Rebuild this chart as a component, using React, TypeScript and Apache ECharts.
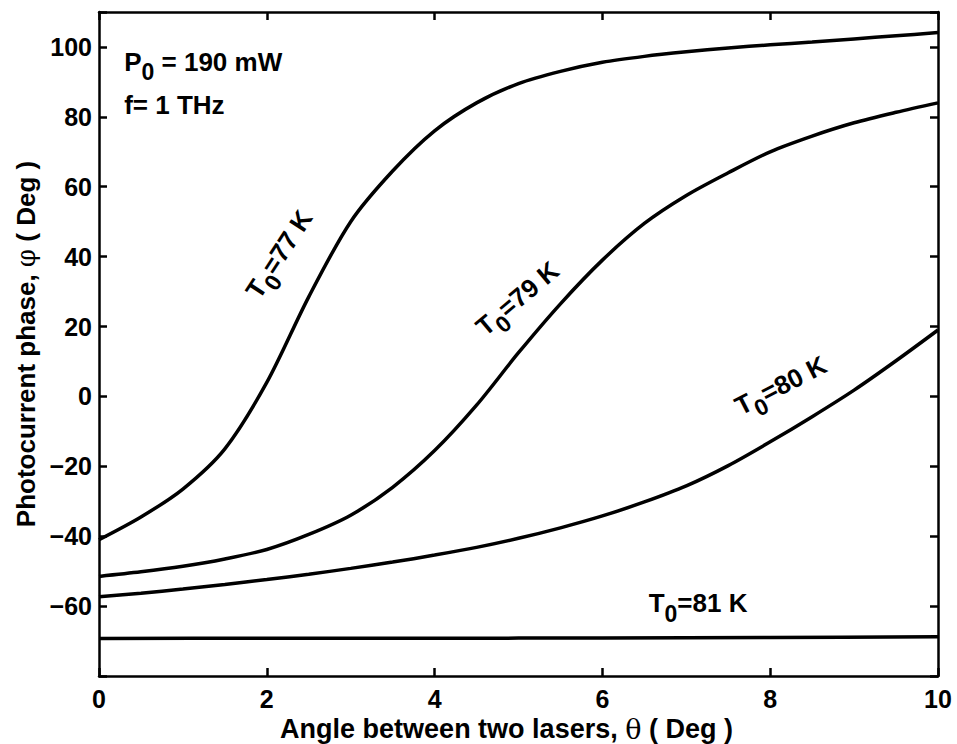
import React, { useEffect, useRef } from 'react';
import * as echarts from 'echarts';

const xValues = [0, 0.5, 1, 1.5, 2, 2.5, 3, 3.5, 4, 4.5, 5, 5.5, 6, 6.5, 7, 7.5, 8, 8.5, 9, 9.5, 10];
const phase77 = [-41, -34.5, -26.5, -15, 4, 28.5, 50, 64.5, 76, 84, 89.5, 93, 95.6, 97.3, 98.6, 99.7, 100.6, 101.4, 102.3, 103.2, 104.1];
const phase79 = [-51.5, -50.2, -48.6, -46.5, -43.8, -39.5, -34, -26, -15.5, -2.5, 12.5, 26.5, 39, 49.5, 57.5, 64, 70, 74.5, 78.3, 81.3, 84];
const phase80 = [-57.3, -56.3, -55.1, -53.8, -52.4, -50.9, -49.2, -47.4, -45.4, -43.2, -40.6, -37.6, -34.2, -30.2, -25.6, -19.8, -13, -5.8, 1.8, 10.2, 19];
const x81 = [0, 2, 4, 6, 8, 10];
const phase81 = [-69.3, -69.2, -69.2, -69.1, -69.0, -68.8];
const yTickValues = [-60, -40, -20, 0, 20, 40, 60, 80, 100];
const xTickValues = [0, 2, 4, 6, 8, 10];

const FONT = 'Liberation Sans, Arial, sans-serif';
const SERIF = 'DejaVu Serif, Liberation Serif, serif';

const pairs = (xs: number[], ys: number[]) => xs.map((x, i) => [x, ys[i]]);

export default function App() {
  const ref = useRef<HTMLDivElement>(null);
  useEffect(() => {
    if (!ref.current) return;
    const chart = echarts.init(ref.current, null, { renderer: 'svg' });
    const axisLine = { show: true, onZero: false, lineStyle: { color: '#000', width: 2.5 } };
    const axisTick = { show: true, inside: true, length: 8, lineStyle: { color: '#000', width: 2.5 } };
    const lineSeries = (name: string, data: number[][]) => ({
      name,
      type: 'line',
      data,
      showSymbol: false,
      symbol: 'none',
      smooth: 0.3,
      lineStyle: { color: '#000', width: 3.5 },
      xAxisIndex: 0,
      yAxisIndex: 0,
    });
    chart.setOption({
      animation: false,
      backgroundColor: '#fff',
      grid: { left: 99, right: 19, top: 12, bottom: 68, outerBoundsMode: 'none', containLabel: false },
      xAxis: [
        {
          type: 'value', min: 0, max: 10, interval: 2, position: 'bottom',
          axisLine, axisTick, splitLine: { show: false },
          axisLabel: {
            margin: 10, color: '#000', fontFamily: FONT, fontWeight: 'bold', fontSize: 25,
            formatter: (v: number) => (xTickValues.includes(v) ? String(v) : ''),
          },
          name: '{a|Angle between two lasers, }{g|θ}{a| ( Deg )}',
          nameLocation: 'middle', nameGap: 21,
          nameTextStyle: {
            padding: [0, 24, 0, 0],
            rich: {
              a: { fontFamily: FONT, fontWeight: 'bold', fontSize: 27, color: '#000' },
              g: { fontFamily: SERIF, fontSize: 27, color: '#000' },
            },
          },
        },
        {
          type: 'value', min: 0, max: 10, interval: 2, position: 'top',
          axisLine, axisTick, splitLine: { show: false }, axisLabel: { show: false },
        },
      ],
      yAxis: [
        {
          type: 'value', min: -80, max: 110, interval: 20, position: 'left',
          axisLine, axisTick, splitLine: { show: false },
          axisLabel: {
            margin: 7, color: '#000', fontFamily: FONT, fontWeight: 'bold', fontSize: 25,
            formatter: (v: number) => (yTickValues.includes(v) ? String(v).replace('-', '\u2212') : ''),
          },
          name: '{a|Photocurrent phase, }{g|φ}{a| ( Deg )}',
          nameLocation: 'middle', nameGap: 60, nameRotate: 90,
          nameTextStyle: {
            rich: {
              a: { fontFamily: FONT, fontWeight: 'bold', fontSize: 26, color: '#000' },
              g: { fontFamily: SERIF, fontSize: 26, color: '#000' },
            },
          },
        },
        {
          type: 'value', min: -80, max: 110, interval: 20, position: 'right',
          axisLine, axisTick, splitLine: { show: false }, axisLabel: { show: false },
        },
      ],
      series: [
        lineSeries('T0=77 K', pairs(xValues, phase77)),
        lineSeries('T0=79 K', pairs(xValues, phase79)),
        lineSeries('T0=80 K', pairs(xValues, phase80)),
        lineSeries('T0=81 K', pairs(x81, phase81)),
      ],
    });

    const px = (x: number, y: number) => chart.convertToPixel({ gridIndex: 0 }, [x, y]) as number[];
    const rich = {
      m: { fontFamily: FONT, fontWeight: 'bold', fontSize: 26, color: '#000', verticalAlign: 'top' },
      s: { fontFamily: FONT, fontWeight: 'bold', fontSize: 23, color: '#000', verticalAlign: 'top', padding: [12, 0, 0, 0] },
    };
    const curveLabel = (temp: string, x: number, y: number, deg: number) => {
      const p = px(x, y);
      return {
        type: 'text', x: p[0], y: p[1], rotation: (deg * Math.PI) / 180,
        style: { text: `{m|T}{s|0}{m|=${temp} K}`, rich, align: 'center', verticalAlign: 'middle' },
      };
    };
    const pA = px(0.3, 99.5);
    const fA = px(0.3, 87);
    chart.setOption({
      graphic: [
        { type: 'text', x: pA[0], y: pA[1], style: { text: '{m|P}{s|0}{m| = 190 mW}', rich, align: 'left', verticalAlign: 'top' } },
        { type: 'text', x: fA[0], y: fA[1], style: { text: '{m|f= 1 THz}', rich, align: 'left', verticalAlign: 'top' } },
        curveLabel('77', 2.19, 40, 57),
        curveLabel('79', 5.02, 27, 40),
        curveLabel('80', 8.15, 2, 27),
        curveLabel('81', 7.14, -60.5, 0),
      ],
    });
    return () => chart.dispose();
  }, []);
  return <div ref={ref} style={{ position: 'fixed', left: 0, top: 0, width: 957, height: 744 }} />;
}
